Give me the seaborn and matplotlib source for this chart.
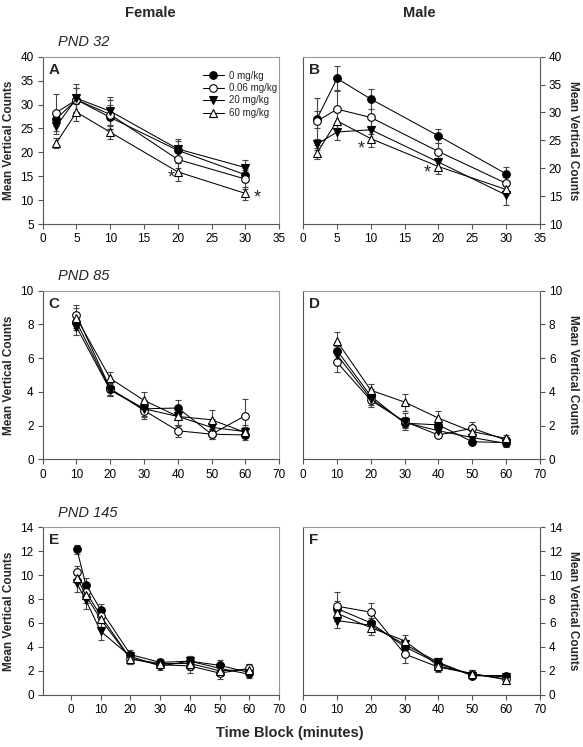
import numpy as np
import pandas as pd
import matplotlib
matplotlib.use("Agg")
import matplotlib.pyplot as plt
import seaborn as sns

doses = ["0 mg/kg", "0.06 mg/kg", "20 mg/kg", "60 mg/kg"]

# Panel A: Female PND 32
a_x = [2, 5, 10, 20, 30]
a_mean = {"0 mg/kg": [27.0, 31.0, 27.3, 20.4, 15.3],
          "0.06 mg/kg": [28.3, 31.0, 27.9, 18.5, 14.4],
          "20 mg/kg": [25.4, 31.3, 28.6, 20.7, 16.8],
          "60 mg/kg": [21.9, 28.4, 24.2, 15.9, 11.4]}
a_err = {"0 mg/kg": [1.5, 2.5, 2.5, 2.0, 1.5],
         "0.06 mg/kg": [3.8, 2.5, 3.0, 1.8, 2.0],
         "20 mg/kg": [1.5, 3.0, 3.0, 2.0, 1.5],
         "60 mg/kg": [1.0, 1.8, 1.5, 1.8, 1.3]}

# Panel B: Male PND 32
b_x = [2, 5, 10, 20, 30]
b_mean = {"0 mg/kg": [28.8, 36.1, 32.4, 25.8, 19.0],
          "0.06 mg/kg": [28.4, 30.6, 29.1, 23.0, 17.3],
          "20 mg/kg": [24.3, 26.5, 26.9, 21.1, 15.2],
          "60 mg/kg": [22.7, 28.5, 25.3, 20.3, 16.2]}
b_err = {"0 mg/kg": [1.5, 2.2, 1.8, 1.2, 1.2],
         "0.06 mg/kg": [4.2, 3.5, 3.0, 1.5, 1.2],
         "20 mg/kg": [1.0, 1.5, 2.0, 1.2, 1.7],
         "60 mg/kg": [1.0, 1.5, 1.5, 1.4, 1.0]}

# Panel C: Female PND 85
c_x = [10, 20, 30, 40, 50, 60]
c_mean = {"0 mg/kg": [8.15, 4.15, 3.0, 3.05, 1.5, 1.45],
          "0.06 mg/kg": [8.55, 4.2, 2.9, 1.7, 1.5, 2.6],
          "20 mg/kg": [7.85, 4.1, 3.0, 2.55, 1.9, 1.65],
          "60 mg/kg": [8.4, 4.8, 3.5, 2.55, 2.35, 1.6]}
c_err = {"0 mg/kg": [0.5, 0.4, 0.5, 0.5, 0.3, 0.3],
         "0.06 mg/kg": [0.6, 0.4, 0.5, 0.35, 0.3, 1.0],
         "20 mg/kg": [0.45, 0.35, 0.45, 0.5, 0.5, 0.4],
         "60 mg/kg": [0.6, 0.4, 0.5, 0.55, 0.6, 0.3]}

# Panel D: Male PND 85
d_x = [10, 20, 30, 40, 50, 60]
d_mean = {"0 mg/kg": [6.45, 3.75, 2.15, 2.05, 1.05, 1.0],
          "0.06 mg/kg": [5.75, 3.5, 2.25, 1.45, 1.85, 1.15],
          "20 mg/kg": [6.2, 3.6, 2.2, 1.7, 1.3, 0.95],
          "60 mg/kg": [7.0, 4.1, 3.4, 2.45, 1.65, 1.25]}
d_err = {"0 mg/kg": [0.5, 0.4, 0.3, 0.3, 0.2, 0.2],
         "0.06 mg/kg": [0.55, 0.4, 0.5, 0.2, 0.35, 0.2],
         "20 mg/kg": [0.5, 0.4, 0.3, 0.3, 0.2, 0.2],
         "60 mg/kg": [0.55, 0.35, 0.5, 0.4, 0.3, 0.2]}

# Panel E: Female PND 145
e_x = [2, 5, 10, 20, 30, 40, 50, 60]
e_mean = {"0 mg/kg": [12.15, 9.2, 7.1, 3.35, 2.7, 2.8, 2.45, 1.85],
          "0.06 mg/kg": [10.3, 8.6, 6.6, 3.0, 2.5, 2.4, 1.8, 2.2],
          "20 mg/kg": [9.3, 7.9, 5.3, 3.2, 2.4, 2.8, 2.2, 1.7],
          "60 mg/kg": [9.8, 8.3, 6.3, 3.0, 2.6, 2.6, 2.0, 2.1]}
e_err = {"0 mg/kg": [0.4, 0.55, 0.5, 0.35, 0.3, 0.4, 0.45, 0.35],
         "0.06 mg/kg": [0.5, 0.6, 0.5, 0.4, 0.3, 0.6, 0.5, 0.4],
         "20 mg/kg": [0.7, 0.7, 0.7, 0.35, 0.3, 0.45, 0.4, 0.3],
         "60 mg/kg": [0.5, 0.6, 0.6, 0.4, 0.3, 0.5, 0.4, 0.5]}

# Panel F: Male PND 145
f_x = [10, 20, 30, 40, 50, 60]
f_mean = {"0 mg/kg": [7.2, 6.0, 4.0, 2.6, 1.6, 1.6],
          "0.06 mg/kg": [7.4, 6.9, 3.4, 2.3, 1.75, 1.3],
          "20 mg/kg": [6.2, 5.8, 4.2, 2.7, 1.6, 1.5],
          "60 mg/kg": [6.8, 5.6, 4.5, 2.4, 1.75, 1.25]}
f_err = {"0 mg/kg": [0.6, 0.7, 0.4, 0.4, 0.3, 0.2],
         "0.06 mg/kg": [1.2, 0.75, 0.75, 0.4, 0.3, 0.2],
         "20 mg/kg": [0.6, 0.6, 0.4, 0.4, 0.2, 0.2],
         "60 mg/kg": [0.6, 0.6, 0.5, 0.4, 0.3, 0.3]}

sns.set_theme(style="white")
plt.rcParams['font.family'] = ['Liberation Sans', 'DejaVu Sans']

styles = {"0 mg/kg": dict(marker="o", markerfacecolor="black", markersize=5.5),
          "0.06 mg/kg": dict(marker="o", markerfacecolor="white", markersize=5.5),
          "20 mg/kg": dict(marker="v", markerfacecolor="black", markersize=5.5),
          "60 mg/kg": dict(marker="^", markerfacecolor="white", markersize=5.5)}

fig = plt.figure(figsize=(5.83, 7.47), dpi=100)

W = 0.4058
axA = fig.add_axes([0.0732, 0.7001, W, 0.2240])
axB = fig.add_axes([0.5202, 0.7001, W, 0.2240])
axC = fig.add_axes([0.0732, 0.3849, W, 0.2260])
axD = fig.add_axes([0.5202, 0.3849, W, 0.2260])
axE = fig.add_axes([0.0732, 0.0701, W, 0.2240])
axF = fig.add_axes([0.5202, 0.0701, W, 0.2240])


def draw(ax, xs, means, errs):
    for d in doses:
        df = pd.DataFrame({"x": xs, "y": means[d]})
        ax.errorbar(xs, means[d], yerr=errs[d], fmt="none", ecolor="#444444",
                    elinewidth=0.8, capsize=2.5, capthick=0.8, zorder=2)
        sns.lineplot(data=df, x="x", y="y", ax=ax, color="black", linewidth=0.75,
                     markeredgecolor="black", markeredgewidth=0.8, label=d,
                     zorder=3, **styles[d])
    leg = ax.get_legend()
    if leg is not None:
        leg.remove()


def style_axes(ax, xlim, xticks, ylim, yticks, right=False):
    ax.set_xlim(*xlim)
    ax.set_ylim(*ylim)
    ax.set_xticks(xticks)
    ax.set_yticks(yticks)
    ax.set_xlabel("")
    for s in ax.spines.values():
        s.set_color("#999999")
        s.set_linewidth(0.8)
    ax.spines["bottom"].set_color("#555555")
    ax.tick_params(axis="both", which="both", direction="out", length=3.5,
                   width=0.8, color="#555555", labelsize=8.5, pad=3,
                   labelcolor="black")
    if right:
        ax.spines["right"].set_color("#555555")
        ax.spines["left"].set_color("#555555")
        ax.yaxis.tick_right()
        ax.yaxis.set_label_position("right")
        ax.set_ylabel("Mean Vertical Counts", rotation=270, fontsize=8.5,
                      fontweight="bold", labelpad=12)
    else:
        ax.spines["left"].set_color("#555555")
        ax.set_ylabel("Mean Vertical Counts", fontsize=8.5, fontweight="bold",
                      labelpad=4)
    ax.tick_params(axis="x", bottom=True)
    ax.tick_params(axis="y", left=not right, right=right)


draw(axA, a_x, a_mean, a_err)
draw(axB, b_x, b_mean, b_err)
draw(axC, c_x, c_mean, c_err)
draw(axD, d_x, d_mean, d_err)
draw(axE, e_x, e_mean, e_err)
draw(axF, f_x, f_mean, f_err)

style_axes(axA, (0, 35), range(0, 36, 5), (5, 40), range(5, 41, 5))
style_axes(axB, (0, 35), range(0, 36, 5), (10, 40), range(10, 41, 5), right=True)
style_axes(axC, (0, 70), range(0, 71, 10), (0, 10), range(0, 11, 2))
style_axes(axD, (0, 70), range(0, 71, 10), (0, 10), range(0, 11, 2), right=True)
style_axes(axE, (-9.5, 70), range(0, 71, 10), (0, 14), range(0, 15, 2))
style_axes(axF, (0, 70), range(0, 71, 10), (0, 14), range(0, 15, 2), right=True)

for ax, lab in zip([axA, axB, axC, axD, axE, axF], "ABCDEF"):
    ax.text(0.025, 0.965, lab, transform=ax.transAxes, fontsize=11,
            fontweight="bold", va="top", ha="left")

for ax, t in [(axA, "PND 32"), (axC, "PND 85"), (axE, "PND 145")]:
    ax.text(0.065, 1.045, t, transform=ax.transAxes, fontsize=10.5,
            fontstyle="italic", va="bottom", ha="left")

# asterisks
axA.text(19.0, 14.6, "*", fontsize=13, ha="center", va="center")
axA.text(31.7, 10.4, "*", fontsize=13, ha="center", va="center")
axB.text(8.6, 23.5, "*", fontsize=13, ha="center", va="center")
axB.text(18.3, 19.2, "*", fontsize=13, ha="center", va="center")

handles = axA.get_lines()
hl = [h for h in handles if h.get_label() in doses]
axA.legend(hl, [h.get_label() for h in hl], loc="upper left",
           bbox_to_anchor=(0.66, 0.94), frameon=False, fontsize=7,
           handlelength=2.2, labelspacing=0.25, borderaxespad=0,
           handletextpad=0.5)

fig.text(0.257, 0.983, "Female", fontsize=10.5, fontweight="bold",
         ha="center", va="center")
fig.text(0.72, 0.983, "Male", fontsize=10.5, fontweight="bold",
         ha="center", va="center")
fig.text(0.497, 0.019, "Time Block (minutes)", fontsize=10.5,
         fontweight="bold", ha="center", va="center")

fig.savefig("out.png", dpi=100)
